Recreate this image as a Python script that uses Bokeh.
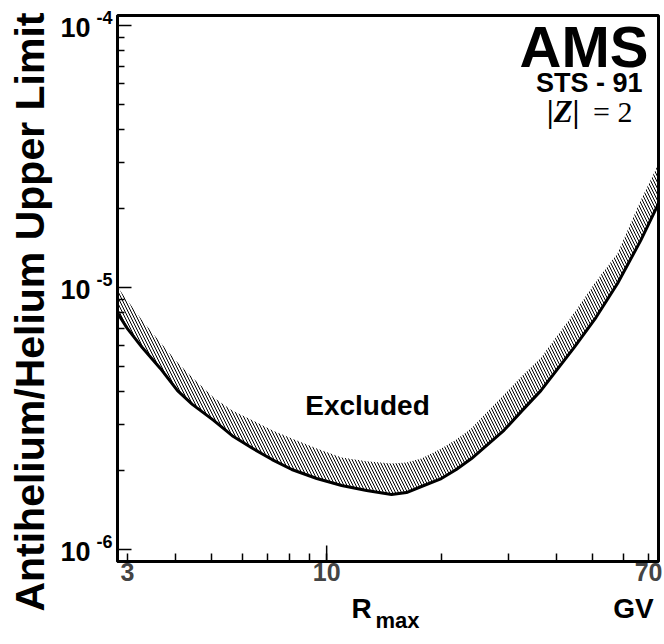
import math
from bokeh.plotting import figure
from bokeh.models import (Range1d, FixedTicker, Label, CustomJSTickFormatter,
                          LogAxis, Title)
from bokeh.embed import file_html
from bokeh.resources import INLINE

# ---- data ----
rigidity = [2.83, 3.0, 3.28, 3.66, 4.06, 4.44, 5.05, 5.65, 6.4, 7.19, 8.1,
            9.42, 10.95, 12.73, 14.8, 16.2, 17.73, 20.0, 21.89, 24.0, 29.2,
            32.4, 36.5, 44.6, 50.9, 58.0, 66.7, 74.3]
limit_low = [7.96e-6, 6.97e-6, 5.90e-6, 4.91e-6, 4.04e-6, 3.58e-6, 3.11e-6,
             2.72e-6, 2.43e-6, 2.205e-6, 2.02e-6, 1.866e-6, 1.755e-6, 1.68e-6,
             1.622e-6, 1.65e-6, 1.74e-6, 1.866e-6, 2.02e-6, 2.225e-6, 2.85e-6,
             3.36e-6, 4.04e-6, 5.90e-6, 7.68e-6, 1.036e-5, 1.51e-5, 2.09e-5]
limit_high = [1.0e-5, 8.92e-6, 7.48e-6, 6.17e-6, 5.17e-6, 4.53e-6, 3.80e-6,
              3.39e-6, 3.11e-6, 2.85e-6, 2.65e-6, 2.43e-6, 2.245e-6, 2.17e-6,
              2.13e-6, 2.15e-6, 2.225e-6, 2.43e-6, 2.63e-6, 2.90e-6, 3.90e-6,
              4.57e-6, 5.40e-6, 8.0e-6, 1.054e-5, 1.35e-5, 2.15e-5, 2.97e-5]

X_START, X_END = 2.825, 74.3
Y_START, Y_END = 9.0e-7, 1.092e-4

x_label_ticks = [3, 10, 70]
x_tick_labels = ["3", "10", "70"]
x_long_ticks = [10]
x_minor_ticks = [4, 5, 6, 7, 8, 9, 20, 30, 40, 50, 60]
y_major_ticks = [1e-6, 1e-5, 1e-4]
y_minor_ticks = [k * 10.0 ** e for e in (-6, -5) for k in range(2, 10)]
y_tick_base = ["10", "10", "10"]
y_tick_exponents = ["-6", "-5", "-4"]

x_title_pos = [12.36, 63.9]
x_title_texts = ["R", "GV"]
x_sub_pos = [15.35]
x_sub_texts = ["max"]

SANS = "Liberation Sans"
SERIF = "Liberation Serif"
PX_PER_DECADE_Y = 262.0

W, H = 664, 644
p = figure(width=W, height=H, x_axis_type="log", y_axis_type="log",
           x_range=Range1d(X_START, X_END), y_range=Range1d(Y_START, Y_END),
           output_backend="svg", toolbar_location=None,
           min_border_left=115, min_border_right=6, min_border_top=15,
           min_border_bottom=83)
p.grid.visible = False
p.outline_line_color = "black"
p.outline_line_width = 3
p.background_fill_color = "white"
p.border_fill_color = "white"


def labels_fmt(labels):
    return CustomJSTickFormatter(args=dict(labels=labels), code="return labels[index]")


def bare(ax):
    ax.axis_line_color = None
    ax.major_tick_line_color = None
    ax.minor_tick_line_color = None
    ax.major_tick_in = 0
    ax.major_tick_out = 0
    ax.minor_tick_in = 0
    ax.minor_tick_out = 0
    ax.major_label_text_font = SANS
    ax.major_label_text_font_style = "bold"
    ax.major_label_text_color = "black"


# main x axis
xa = p.xaxis[0]
xa.ticker = FixedTicker(ticks=x_label_ticks, minor_ticks=x_minor_ticks)
xa.formatter = labels_fmt(x_tick_labels)
xa.axis_line_width = 3
xa.major_tick_in = 8
xa.major_tick_out = 0
xa.minor_tick_in = 8
xa.minor_tick_out = 0
xa.major_tick_line_width = 1.5
xa.minor_tick_line_width = 1.5
xa.major_label_text_font = SANS
xa.major_label_text_font_style = "bold"
xa.major_label_text_font_size = "25px"
xa.major_label_standoff = 1

# main y axis (ticks only)
ya = p.yaxis[0]
ya.ticker = FixedTicker(ticks=y_major_ticks, minor_ticks=y_minor_ticks)
ya.formatter = CustomJSTickFormatter(code="return ''")
ya.axis_line_width = 3
ya.major_tick_in = 14
ya.major_tick_out = 0
ya.minor_tick_in = 7
ya.minor_tick_out = 0
ya.major_tick_line_width = 1.5
ya.minor_tick_line_width = 1.5
ya.major_label_standoff = 0
ya.major_label_text_font_size = "10px"

# exponent labels (raised a few pixels above each decade)
exp_axis = LogAxis(ticker=FixedTicker(ticks=[v * 10 ** (8 / PX_PER_DECADE_Y) for v in y_major_ticks],
                                      minor_ticks=[]),
                   formatter=labels_fmt(y_tick_exponents))
bare(exp_axis)
exp_axis.major_label_text_font_size = "18px"
exp_axis.major_label_standoff = 5
p.add_layout(exp_axis, "left")

base_axis = LogAxis(ticker=FixedTicker(ticks=[v * 10 ** (-2 / PX_PER_DECADE_Y) for v in y_major_ticks],
                                       minor_ticks=[]),
                    formatter=labels_fmt(y_tick_base))
bare(base_axis)
base_axis.major_label_text_font_size = "27px"
base_axis.major_label_standoff = 3
p.add_layout(base_axis, "left")

p.add_layout(Title(text="Antihelium/Helium Upper Limit", align="right", offset=-3,
                   standoff=9, text_font=SANS, text_font_style="bold",
                   text_font_size="41px", text_color="black"), "left")

# x title row: R and GV
xt_axis = LogAxis(ticker=FixedTicker(ticks=x_title_pos, minor_ticks=[]),
                  formatter=labels_fmt(x_title_texts))
bare(xt_axis)
xt_axis.major_label_text_font_size = "28px"
xt_axis.major_label_standoff = 9
p.add_layout(xt_axis, "below")

xs_axis = LogAxis(ticker=FixedTicker(ticks=x_sub_pos, minor_ticks=[]),
                  formatter=labels_fmt(x_sub_texts))
bare(xs_axis)
xs_axis.major_label_text_font_size = "22px"
xs_axis.major_label_standoff = -19
p.add_layout(xs_axis, "below")

# longer tick at 10
p.scatter(x=x_long_ticks, y=[Y_START] * len(x_long_ticks), marker="dash",
          angle=math.pi / 2, size=32, line_width=1.5, line_color="black")

# hatched band and limit curve
p.varea(x=rigidity, y1=limit_low, y2=limit_high, fill_alpha=0,
        hatch_pattern="\\", hatch_scale=6, hatch_weight=1, hatch_color="black")
p.line(rigidity, limit_low, line_width=3, line_color="black")


def lab(**kw):
    kw.setdefault("text_font", SANS)
    kw.setdefault("text_font_style", "bold")
    kw.setdefault("text_color", "black")
    kw.setdefault("text_baseline", "alphabetic")
    p.add_layout(Label(**kw))


lab(x=X_END, y=Y_END, text="AMS", text_align="right",
    x_offset=-10, y_offset=-31, text_font_size="58px")
lab(x=X_END, y=Y_END, text="STS - 91", text_align="right",
    x_offset=-16, y_offset=-67, text_font_size="27px")
lab(x=X_END, y=Y_END, text="|Z|", text_align="right",
    x_offset=-79, y_offset=-96, text_font_size="31px", text_font=SERIF,
    text_font_style="bold italic")
lab(x=X_END, y=Y_END, text="= 2", text_align="right",
    x_offset=-26, y_offset=-96, text_font_size="30px", text_font=SERIF,
    text_font_style="normal")
lab(x=12.8, y=3.25e-6, text="Excluded", text_align="center",
    y_offset=10, text_font_size="28px")

open("out.html", "w").write(file_html(p, INLINE))
